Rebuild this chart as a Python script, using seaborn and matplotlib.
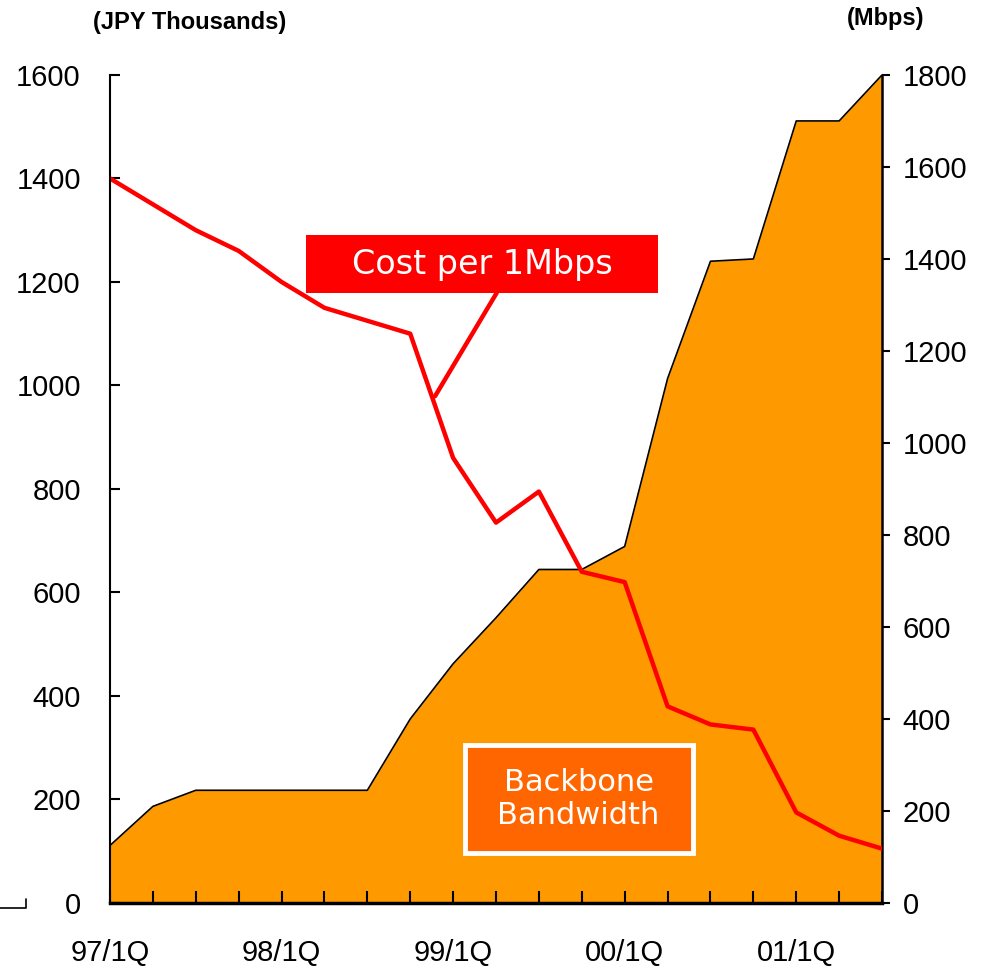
import matplotlib
matplotlib.use("Agg")
from matplotlib import pyplot as plt
from matplotlib.patches import Rectangle
from matplotlib.lines import Line2D
import seaborn as sns

quarters = ["97/1Q", "97/2Q", "97/3Q", "97/4Q",
            "98/1Q", "98/2Q", "98/3Q", "98/4Q",
            "99/1Q", "99/2Q", "99/3Q", "99/4Q",
            "00/1Q", "00/2Q", "00/3Q", "00/4Q",
            "01/1Q", "01/2Q", "01/3Q"]
cost_per_mbps = [1400, 1350, 1300, 1260, 1200, 1150, 1125, 1100, 860, 735,
                 795, 640, 620, 380, 345, 335, 175, 130, 105]
bandwidth = [125, 210, 245, 245, 245, 245, 245, 400, 520, 620,
             725, 725, 775, 1140, 1395, 1400, 1700, 1700, 1800]

sns.set_style("ticks")
plt.rcParams["font.family"] = ["Liberation Sans", "DejaVu Sans"]
plt.rcParams["text.color"] = "black"
plt.rcParams["xtick.color"] = "black"
plt.rcParams["ytick.color"] = "black"
plt.rcParams["axes.edgecolor"] = "black"

pos = list(range(len(quarters)))
shown = [q if q.endswith("/1Q") else "" for q in quarters]

fig = plt.figure(figsize=(9.82, 9.72), dpi=100)
ax = fig.add_axes([0.112, 0.071, 0.7862, 0.8519])
ax2 = ax.twinx()

# bandwidth area on the right axis
ax2.fill_between(pos, bandwidth, color="#FF9900", linewidth=0)
sns.lineplot(x=pos, y=bandwidth, ax=ax2, color="black", linewidth=1.2)
ax2.set_ylim(0, 1800)
ax2.set_yticks(range(0, 1801, 200))

# cost line on the left axis, drawn above the area
ax.set_zorder(ax2.get_zorder() + 1)
ax.patch.set_visible(False)
sns.lineplot(x=pos, y=cost_per_mbps, ax=ax, color="#FF0000", linewidth=3.2)
ax.set_ylim(0, 1600)
ax.set_yticks(range(0, 1601, 200))
ax.set_xlim(0, len(quarters) - 1)
ax.set_xticks(pos)
ax.set_xticklabels(shown)

for a in (ax, ax2):
    a.set_xlabel("")
    a.set_ylabel("")
    a.spines["top"].set_visible(False)
ax.spines["right"].set_visible(False)
ax2.spines["left"].set_visible(False)
ax.spines["bottom"].set_linewidth(2.5)
ax.spines["left"].set_linewidth(1.5)
ax2.spines["right"].set_linewidth(1.8)
ax2.spines["bottom"].set_visible(False)

ax.tick_params(axis="x", direction="in", length=9, width=1.5, pad=26,
               labelsize=21)
ax.tick_params(axis="y", direction="in", length=7, width=1.5, pad=21,
               labelsize=21)
ax2.tick_params(axis="y", direction="out", length=6, width=1.5, pad=9,
                labelsize=21)

# callout boxes
ax.add_patch(Rectangle((0.254, 0.737), 0.456, 0.070, transform=ax.transAxes,
                       facecolor="#FF0000", edgecolor="none", zorder=5))
ax.text(0.482, 0.771, "Cost per 1Mbps", transform=ax.transAxes,
        ha="center", va="center", color="white", fontsize=24,
        family="DejaVu Sans", zorder=6)
ax.add_line(Line2D([0.501, 0.421], [0.737, 0.612], transform=ax.transAxes,
                   color="#FF0000", linewidth=3.2, zorder=4))

ax.add_patch(Rectangle((0.460, 0.060), 0.295, 0.131, transform=ax.transAxes,
                       facecolor="#FF6600", edgecolor="white", linewidth=3.5,
                       zorder=5))
ax.text(0.607, 0.1255, "Backbone\nBandwidth", transform=ax.transAxes,
        ha="center", va="center", color="white", fontsize=22,
        family="DejaVu Sans", linespacing=1.15, zorder=6)

fig.text(0.193, 0.977, "(JPY Thousands)", ha="center", va="center",
         fontsize=17, fontweight="bold")
fig.text(0.902, 0.981, "(Mbps)", ha="center", va="center",
         fontsize=17, fontweight="bold")

fig.add_artist(Line2D([0.0, 0.026, 0.026], [0.066, 0.066, 0.075],
                      color="black", linewidth=1.2))

fig.savefig("out.png", dpi=100)
